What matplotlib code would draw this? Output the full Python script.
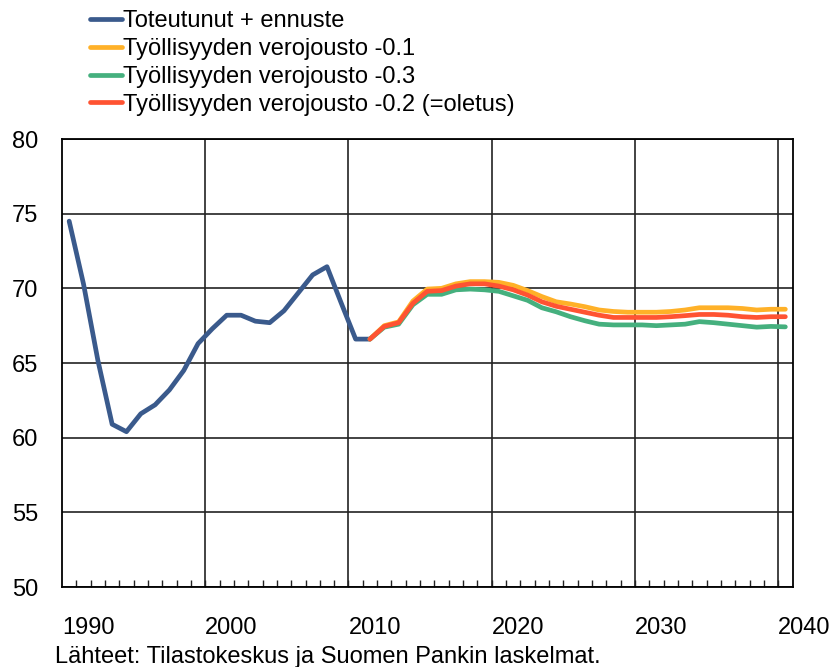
import numpy as np
import matplotlib.pyplot as plt

plt.rcParams['font.family'] = ['Liberation Sans', 'DejaVu Sans']

years = np.arange(1990, 2041)

# Toteutunut + ennuste (1990-2011)
actual = [74.5, 70.3, 65.2, 60.9, 60.4, 61.6, 62.2, 63.2, 64.5, 66.3,
          67.3, 68.2, 68.2, 67.8, 67.7, 68.5, 69.7, 70.9, 71.45, 69.0,
          66.6, 66.6]

# scenarios 2011-2040
scen_years = np.arange(2011, 2041)
elast_01 = [66.6, 67.5, 67.75, 69.15, 69.95, 70.0, 70.3, 70.45, 70.45, 70.4,
            70.2, 69.85, 69.45, 69.1, 68.95, 68.77, 68.55, 68.45, 68.4, 68.4,
            68.4, 68.45, 68.55, 68.7, 68.7, 68.7, 68.65, 68.55, 68.6, 68.6]
elast_03 = [66.6, 67.4, 67.6, 68.9, 69.6, 69.6, 69.9, 69.95, 69.9, 69.8,
            69.5, 69.2, 68.7, 68.43, 68.1, 67.83, 67.6, 67.55, 67.55, 67.55,
            67.5, 67.55, 67.6, 67.77, 67.7, 67.6, 67.5, 67.4, 67.45, 67.42]
elast_02 = [66.6, 67.45, 67.7, 69.0, 69.8, 69.85, 70.15, 70.3, 70.3, 70.15,
            69.9, 69.55, 69.1, 68.8, 68.6, 68.4, 68.2, 68.05, 68.05, 68.05,
            68.05, 68.1, 68.17, 68.25, 68.25, 68.2, 68.1, 68.05, 68.1, 68.1]

labels = ['Toteutunut + ennuste', 'Työllisyyden verojousto -0.1',
          'Työllisyyden verojousto -0.3', 'Työllisyyden verojousto -0.2 (=oletus)']
colors = ['#3A5A8C', '#FFB128', '#45B07E', '#FF5332']

W, H = 838, 667
fig = plt.figure(figsize=(W / 100, H / 100), dpi=100)
ax = fig.add_axes([62 / W, 1 - 587 / H, (792.5 - 62) / W, (587 - 139) / H])

lw = 3.4
ax.plot(years[:len(actual)], actual, color=colors[0], lw=lw, label=labels[0],
        solid_capstyle='round', zorder=3)
ax.plot(scen_years, elast_01, color=colors[1], lw=lw, label=labels[1],
        solid_capstyle='round', zorder=3)
ax.plot(scen_years, elast_03, color=colors[2], lw=lw, label=labels[2],
        solid_capstyle='round', zorder=3)
ax.plot(scen_years, elast_02, color=colors[3], lw=lw, label=labels[3],
        solid_capstyle='round', zorder=4)

ax.set_xlim(1989.5, 2040.5)
ax.set_ylim(50, 80)

# horizontal grid
ax.set_yticks(range(50, 81, 5))
ax.tick_params(axis='y', length=0, labelsize=17, pad=17)
ax.grid(axis='y', color='#222222', lw=1.2)

# vertical grid lines + category ticks
for gx in np.arange(1999.5, 2040, 10):
    ax.axvline(gx, color='#222222', lw=1.2, zorder=1)
ax.set_xticks(np.arange(1990.5, 2040, 1), minor=True)
ax.set_xticks([])
ax.tick_params(axis='x', which='minor', direction='in', length=5, width=1,
               color='#222222')

for lab in range(1990, 2041, 10):
    ax.text(lab - 0.5, -0.091, str(lab), transform=ax.get_xaxis_transform(),
            ha='left', va='center', fontsize=17)

for s in ax.spines.values():
    s.set_linewidth(1.3)
    s.set_color('black')
ax.set_axisbelow(True)

handles, labs = ax.get_legend_handles_labels()
fig.legend(handles, labs, loc='upper left', bbox_to_anchor=(90 / W, 1 - 10 / H),
           frameon=False, fontsize=17, handlelength=1.35, handletextpad=0.05,
           labelspacing=0.25, borderpad=0, borderaxespad=0)

fig.text(55 / W, 1 - 657 / H, 'Lähteet: Tilastokeskus ja Suomen Pankin laskelmat.',
         ha='left', va='center', fontsize=17)

fig.savefig('out.png', dpi=100)
